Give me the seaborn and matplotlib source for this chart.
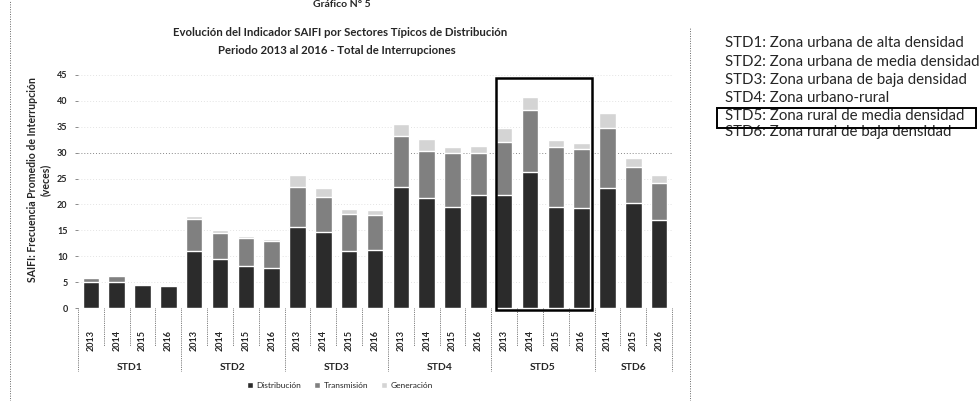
import matplotlib
matplotlib.use("Agg")
import matplotlib.pyplot as plt
from matplotlib.patches import Patch, Rectangle
from matplotlib.lines import Line2D
import seaborn as sns
import pandas as pd

# --- Datos: SAIFI por sector típico y año (veces) ---
sectores = ["STD1"] * 4 + ["STD2"] * 4 + ["STD3"] * 4 + ["STD4"] * 4 + ["STD5"] * 4 + ["STD6"] * 3
anios = ["2013", "2014", "2015", "2016"] * 5 + ["2014", "2015", "2016"]
distribucion = [5.0, 5.0, 4.4, 4.3,
                11.0, 9.5, 8.1, 7.8,
                15.6, 14.6, 11.0, 11.2,
                23.3, 21.2, 19.6, 21.8,
                21.8, 26.3, 19.6, 19.3,
                23.1, 20.2, 17.0]
transmision = [0.7, 1.1, 0.3, 0.2,
               6.2, 4.9, 5.4, 5.2,
               7.7, 6.8, 7.2, 6.8,
               10.0, 9.2, 10.3, 8.2,
               10.3, 11.9, 11.5, 11.5,
               11.6, 7.1, 7.1]
generacion = [0.2, 0.2, 0.1, 0.1,
              0.6, 0.6, 0.4, 0.4,
              2.3, 1.8, 0.9, 1.0,
              2.3, 2.2, 1.2, 1.2,
              2.6, 2.6, 1.3, 1.0,
              2.9, 1.6, 1.6]
grupos = ["STD1", "STD2", "STD3", "STD4", "STD5", "STD6"]
descripciones = [
    "STD1: Zona urbana de alta densidad",
    "STD2: Zona urbana de media densidad",
    "STD3: Zona urbana de baja densidad",
    "STD4: Zona urbano-rural",
    "STD5: Zona rural de media densidad",
    "STD6: Zona rural de baja densidad",
]
y_ticks = [0, 5, 10, 15, 20, 25, 30, 35, 40, 45]

df = pd.DataFrame({"sector": sectores, "anio": anios,
                   "dist": distribucion, "trans": transmision, "gen": generacion})
df["barra"] = df["sector"] + "-" + df["anio"]
df["dist_trans"] = df["dist"] + df["trans"]
df["total"] = df["dist_trans"] + df["gen"]

C_DIST = "#2b2b2b"
C_TRANS = "#808080"
C_GEN = "#d4d4d4"

sns.set_theme(style="white")
plt.rcParams["font.family"] = ["Lato", "DejaVu Sans"]

W, H = 980, 401
fig = plt.figure(figsize=(W / 100, H / 100), dpi=100)


def fx(x):
    return x / W


def fy(y):
    return 1 - y / H


ax = fig.add_axes([fx(78), fy(308), fx(672) - fx(78), fy(75) - fy(308)])

order = list(df["barra"])
for col, c in (("total", C_GEN), ("dist_trans", C_TRANS), ("dist", C_DIST)):
    sns.barplot(data=df, x="barra", y=col, order=order, color=c, saturation=1,
                width=0.64, ax=ax, errorbar=None)

n = len(df)
ax.set_xlim(-0.5, n - 0.5)
ax.set_ylim(0, 45)
ax.set_xlabel("")
ax.set_ylabel("")
for s in ax.spines.values():
    s.set_visible(False)

# grid lines (dotted)
for v in y_ticks[1:]:
    ax.axhline(v, color="#888888" if v == 30 else "#e3e3e3", lw=0.7,
               ls=(0, (1, 2)), zorder=0)

ax.set_yticks(y_ticks)
ax.set_yticklabels([str(v) for v in y_ticks], fontsize=6.5, fontweight="bold")
ax.tick_params(axis="y", left=True, length=2.5, width=0.6, color="#777777", pad=5)
ax.set_xticks(range(n))
ax.set_xticklabels(df["anio"], rotation=90, fontsize=6.5, fontweight="bold")
ax.tick_params(axis="x", bottom=False, pad=10)

# separators under the axis: short ones between years, long ones between sectors
trans_x = ax.get_xaxis_transform()
inicio = 0
limites = [-0.5]
for g in grupos:
    k = sectores.count(g)
    limites.append(inicio + k - 0.5)
    centro = inicio + (k - 1) / 2
    ax.text(centro, -0.255, g, transform=trans_x, ha="center", va="center",
            fontsize=7.5, fontweight="bold")
    inicio += k
for i in range(n + 1):
    xb = i - 0.5
    y_low = -0.27 if xb in limites else -0.165
    ax.plot([xb, xb], [0, y_low], transform=trans_x, clip_on=False,
            color="#555555", lw=0.6, ls=(0, (1, 1.2)))

# highlight box around STD5
ax.add_patch(Rectangle((15.68, -0.3), 19.4 - 15.68, 44.4 + 0.3, fill=False,
                       edgecolor="black", lw=1.8, clip_on=False, zorder=5))

# titles
fig.text(fx(342), fy(0), "Gráfico N° 5", ha="center", va="top",
         fontsize=7.5, fontweight="bold")
fig.text(fx(340), fy(32), "Evolución del Indicador SAIFI por Sectores Típicos de Distribución",
         ha="center", va="center", fontsize=8.2, fontweight="bold")
fig.text(fx(337), fy(50), "Periodo 2013 al 2016 - Total de Interrupciones",
         ha="center", va="center", fontsize=8.2, fontweight="bold")

# y-axis label
fig.text(fx(33), fy(180), "SAIFI: Frecuencia Promedio de Interrupción",
         rotation=90, ha="center", va="center", fontsize=7.6, fontweight="bold")
fig.text(fx(45), fy(180), "(veces)", rotation=90, ha="center", va="center",
         fontsize=7.6, fontweight="bold")

# legend
handles = [Patch(facecolor=C_DIST), Patch(facecolor=C_TRANS), Patch(facecolor=C_GEN)]
fig.legend(handles, ["Distribución", "Transmisión", "Generación"], loc="center",
           bbox_to_anchor=(fx(340), fy(385)), ncol=3, frameon=False, fontsize=6,
           handlelength=0.7, handleheight=0.7, handletextpad=0.4, columnspacing=1.6)

# sector descriptions on the right
lineas_y = [43, 61.5, 80, 98, 116, 132]
for txt, yy in zip(descripciones, lineas_y):
    fig.text(fx(725), fy(yy), txt, ha="left", va="center", fontsize=10.8)
fig.patches.append(Rectangle((fx(717), fy(128)), fx(976) - fx(717), fy(108) - fy(128),
                             transform=fig.transFigure, facecolor="none",
                             edgecolor="black", lw=1.4, zorder=5))

# dotted frame lines of the page
fig.lines.append(Line2D([fx(10), fx(10)], [0, 1], transform=fig.transFigure,
                        color="#666666", lw=0.7, ls=(0, (1, 1.5))))
fig.lines.append(Line2D([fx(690), fx(690)], [0, fy(28)], transform=fig.transFigure,
                        color="#666666", lw=0.7, ls=(0, (1, 1.5))))

fig.savefig("out.png", dpi=100)
